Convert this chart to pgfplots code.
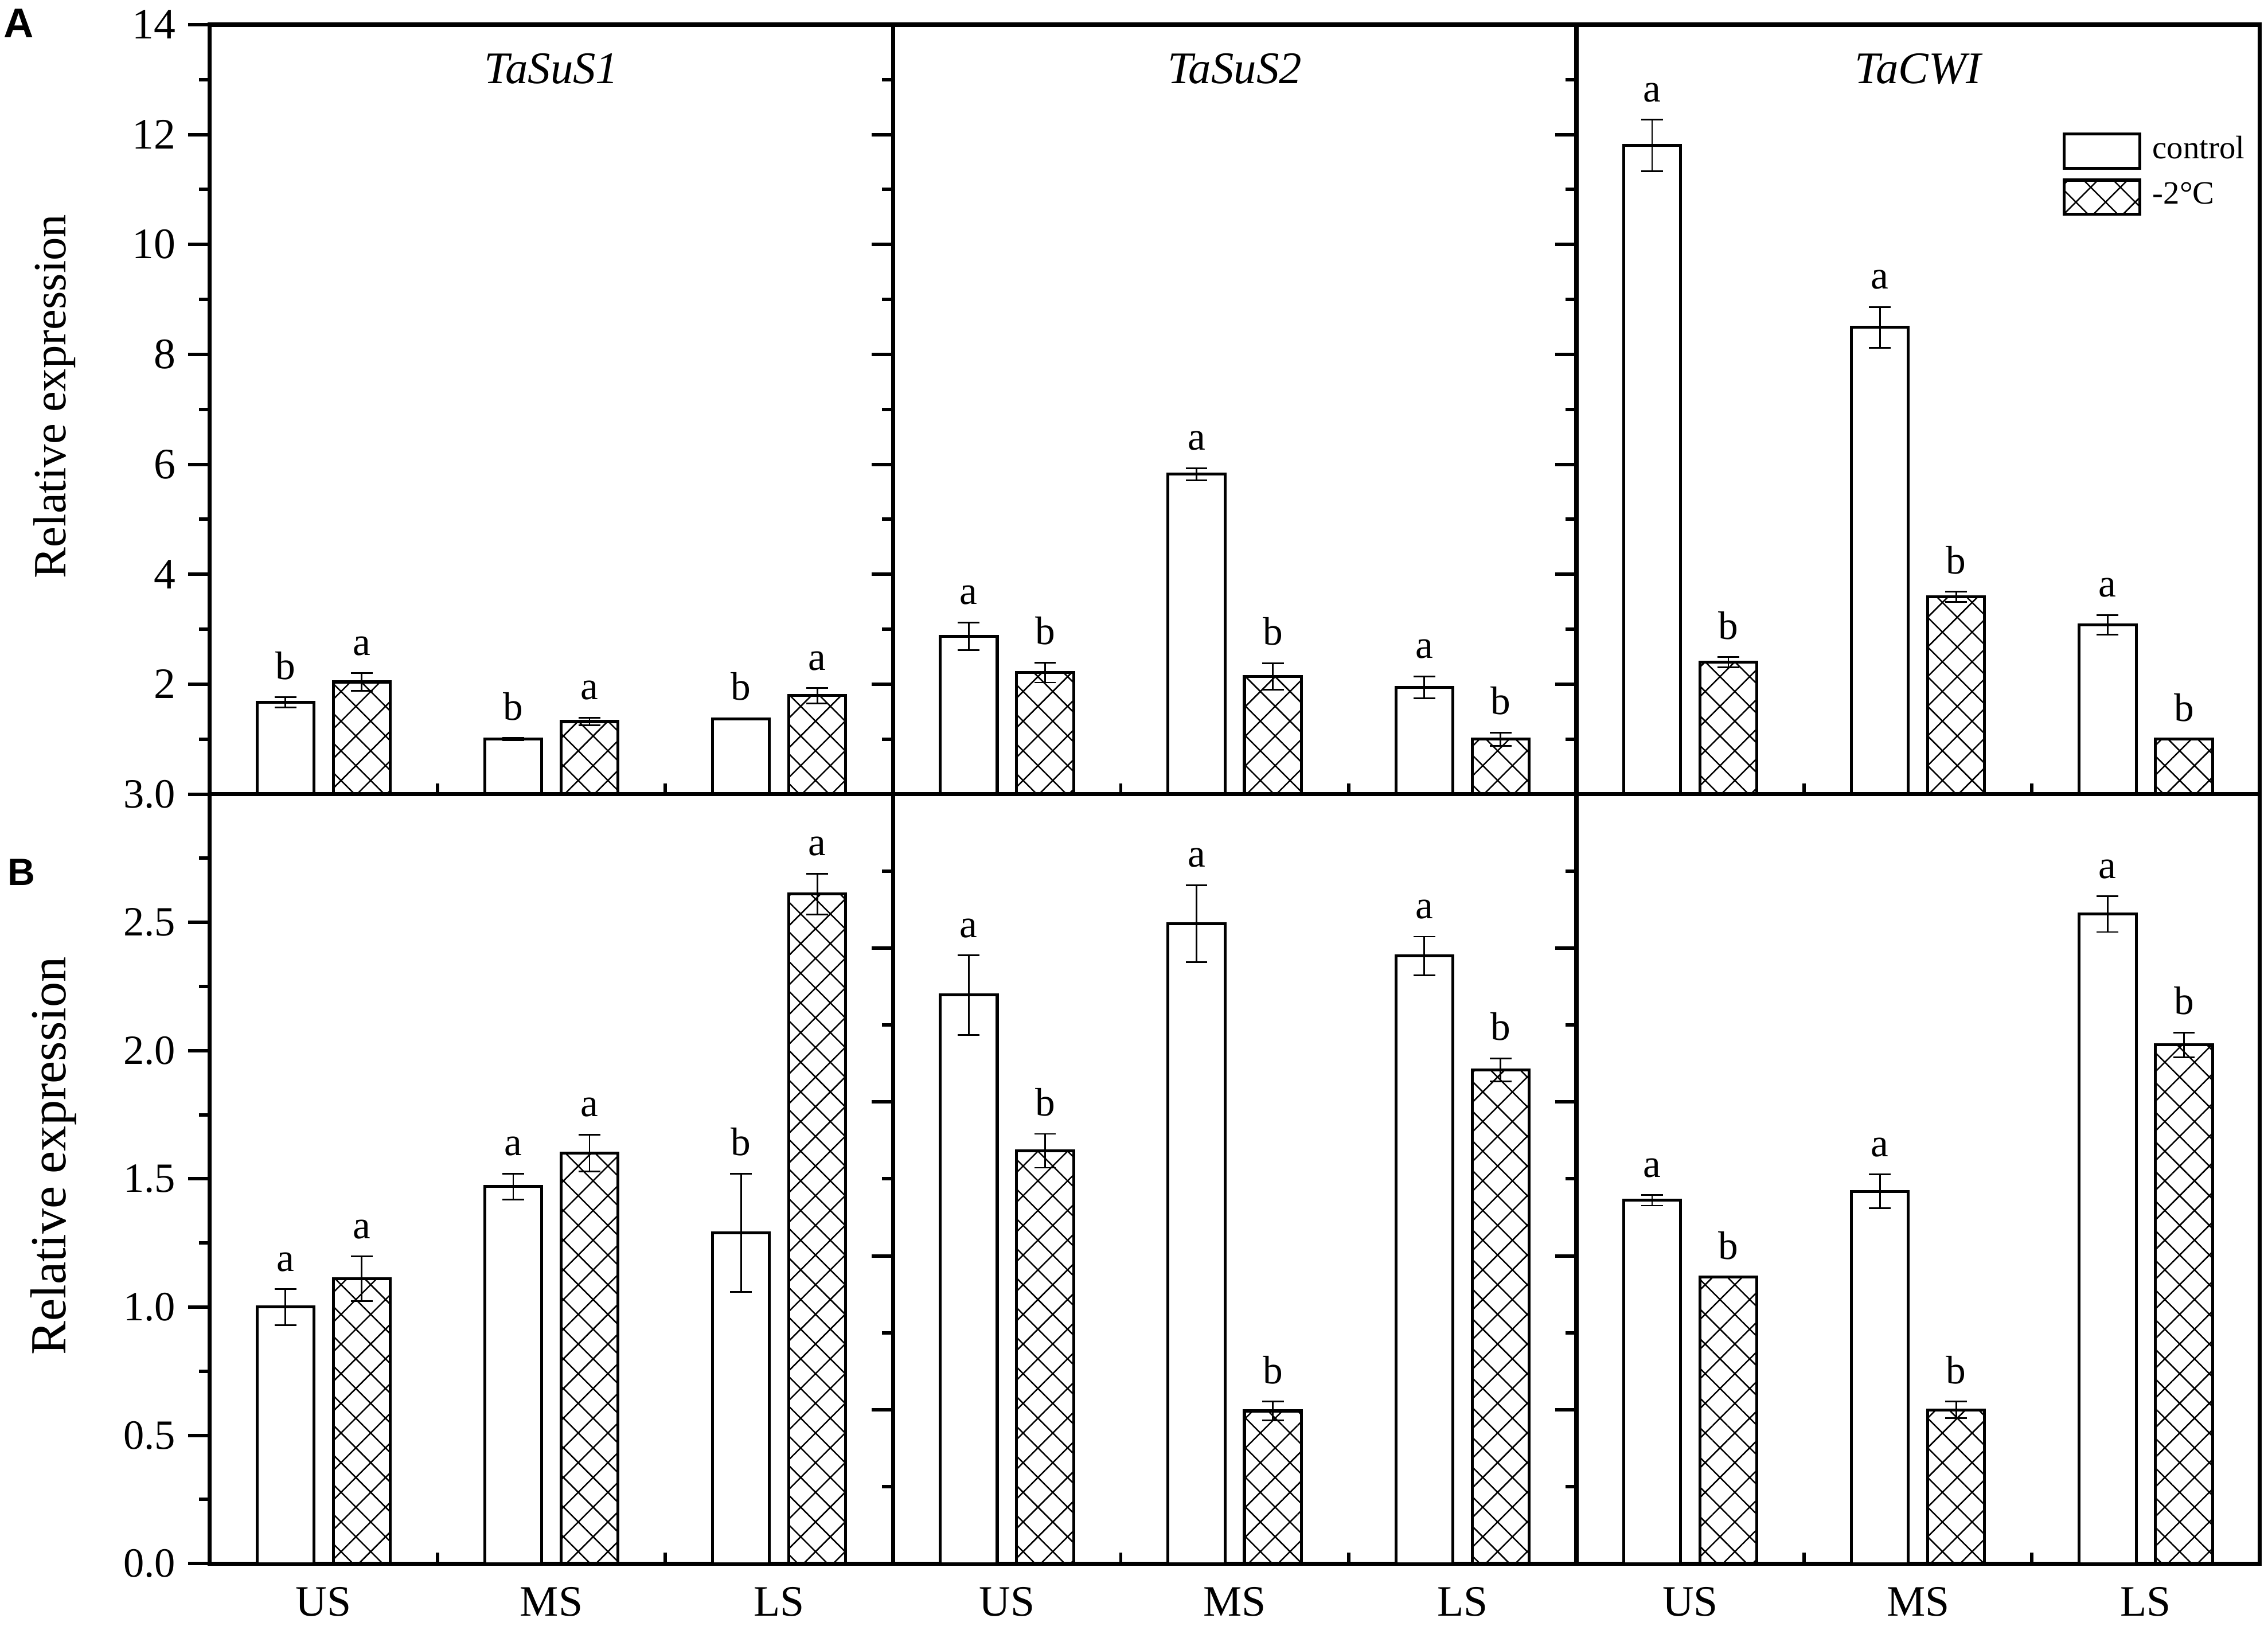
\documentclass[border=0pt]{standalone}
\usepackage{fontspec}
\setmainfont{Liberation Serif}
\newfontfamily\panelfont{Liberation Sans}
\usepackage{pgfplots}
\pgfplotsset{compat=1.18}
\usetikzlibrary{patterns.meta}

\pgfplotsset{
  panel/.style={
    scale only axis, width=189pt, height=212.8pt, anchor=south west,
    xmin=0.5, xmax=3.5, ymin=0,
    ybar, bar width=0.25, clip=false,
    axis line style={line width=1.16pt},
    xtick={1,2,3}, minor xtick={1.5,2.5},
    xtick pos=bottom, ytick pos=left,
    xtick align=inside, ytick align=outside,
    major tick length=5.9pt, minor tick length=3pt,
    tick style={line width=0.95pt, black},
    major x tick style={draw=none},
    /pgf/number format/assume math mode=true,
    tick label style={font=\fontsize{12}{14}\selectfont},
    xticklabels={},
    error bars/error bar style={line width=0.45pt, black},
    error bars/error mark options={rotate=90, line width=0.45pt, mark size=3pt, black},
  },
  toprow/.style={ymax=14, ytick={0,2,...,14}, minor ytick={1,3,...,13}, yticklabels={}},
  botrow/.style={xticklabels={US,MS,LS}, xticklabel style={yshift=-3pt}},
  botinner/.style={ymax=2.5, ytick={0,0.5,...,2.5}, minor ytick={0.25,0.75,...,2.25}, yticklabels={}},
  ctrl/.style={draw=black, line width=0.8pt, fill=white, bar shift=-0.1675,
     legend image code/.code={\draw[##1, line width=0.8pt] (0pt,-5.1pt) rectangle (20.8pt,4.4pt); \path (24.0pt,0pt);}},
  cold/.style={draw=black, line width=0.8pt, pattern={Hatch[angle=45,distance=5.8pt,line width=0.4pt]}, bar shift=0.1675,
     legend image code/.code={\draw[##1, line width=0.8pt] (0pt,-5.1pt) rectangle (20.8pt,4.4pt); \path (24.0pt,0pt);}},
}
\newcommand\lab[3]{\node[anchor=base, yshift=5pt, inner sep=0pt, font=\fontsize{11}{12}\selectfont] at (axis cs:#1,#2) {#3};}
\newcommand\ttl[1]{\node[anchor=base, yshift=-16.3pt, inner sep=0pt, font=\itshape\fontsize{12.5}{14}\selectfont] at (rel axis cs:0.5,1) {#1};}

\begin{document}
\begin{tikzpicture}
\useasboundingbox (0,0) rectangle (627.3pt,449.6pt);

% ---------------- top row ----------------
\begin{axis}[panel, toprow, at={(58pt,230pt)}, yticklabels={{},2,4,6,8,10,12,14}]
\addplot[ctrl, error bars/.cd, y dir=both, y explicit] coordinates {(1,1.67) +- (0,0.09) (2,1.00) +- (0,0.02) (3,1.37) +- (0,0.01)};
\addplot[cold, error bars/.cd, y dir=both, y explicit] coordinates {(1,2.04) +- (0,0.16) (2,1.32) +- (0,0.07) (3,1.79) +- (0,0.14)};
\ttl{TaSuS1}
\lab{0.8325}{1.76}{b}\lab{1.1675}{2.20}{a}
\lab{1.8325}{1.02}{b}\lab{2.1675}{1.39}{a}
\lab{2.8325}{1.38}{b}\lab{3.1675}{1.93}{a}
\end{axis}

\begin{axis}[panel, toprow, at={(247pt,230pt)}]
\addplot[ctrl, error bars/.cd, y dir=both, y explicit] coordinates {(1,2.87) +- (0,0.25) (2,5.82) +- (0,0.11) (3,1.94) +- (0,0.20)};
\addplot[cold, error bars/.cd, y dir=both, y explicit] coordinates {(1,2.21) +- (0,0.18) (2,2.14) +- (0,0.24) (3,1.00) +- (0,0.12)};
\ttl{TaSuS2}
\lab{0.8325}{3.12}{a}\lab{1.1675}{2.39}{b}
\lab{1.8325}{5.93}{a}\lab{2.1675}{2.38}{b}
\lab{2.8325}{2.14}{a}\lab{3.1675}{1.12}{b}
\end{axis}

\begin{axis}[panel, toprow, at={(436pt,230pt)},
  legend style={draw=none, fill=none, inner sep=0pt, at={(0.711,0.8604)}, anchor=north west,
    row sep=2.4pt, font=\fontsize{9}{11}\selectfont, nodes={inner sep=0pt}},
  legend cell align=left]
\addplot[ctrl, error bars/.cd, y dir=both, y explicit] coordinates {(1,11.80) +- (0,0.47) (2,8.49) +- (0,0.37) (3,3.08) +- (0,0.18)};
\addlegendentry{control}
\addplot[cold, error bars/.cd, y dir=both, y explicit] coordinates {(1,2.40) +- (0,0.09) (2,3.59) +- (0,0.09) (3,1.00) +- (0,0.0)};
\addlegendentry{-2°C}
\ttl{TaCWI}
\lab{0.8325}{12.27}{a}\lab{1.1675}{2.49}{b}
\lab{1.8325}{8.86}{a}\lab{2.1675}{3.68}{b}
\lab{2.8325}{3.26}{a}\lab{3.1675}{1.00}{b}
\end{axis}

% ---------------- bottom row ----------------
\begin{axis}[panel, botrow, at={(58pt,17.2pt)}, ymax=3, ytick={0,0.5,...,3}, minor ytick={0.25,0.75,...,2.75},
  yticklabel style={font=\fontsize{11.5}{13}\selectfont, /pgf/number format/.cd, fixed, fixed zerofill, precision=1}]
\addplot[ctrl, error bars/.cd, y dir=both, y explicit] coordinates {(1,1.00) +- (0,0.07) (2,1.47) +- (0,0.05) (3,1.29) +- (0,0.23)};
\addplot[cold, error bars/.cd, y dir=both, y explicit] coordinates {(1,1.11) +- (0,0.087) (2,1.60) +- (0,0.072) (3,2.61) +- (0,0.08)};
\lab{0.8325}{1.07}{a}\lab{1.1675}{1.197}{a}
\lab{1.8325}{1.52}{a}\lab{2.1675}{1.672}{a}
\lab{2.8325}{1.52}{b}\lab{3.1675}{2.69}{a}
\end{axis}

\begin{axis}[panel, botrow, botinner, at={(247pt,17.2pt)}]
\addplot[ctrl, error bars/.cd, y dir=both, y explicit] coordinates {(1,1.847) +- (0,0.129) (2,2.079) +- (0,0.125) (3,1.974) +- (0,0.063)};
\addplot[cold, error bars/.cd, y dir=both, y explicit] coordinates {(1,1.341) +- (0,0.055) (2,0.496) +- (0,0.030) (3,1.604) +- (0,0.037)};
\lab{0.8325}{1.976}{a}\lab{1.1675}{1.396}{b}
\lab{1.8325}{2.204}{a}\lab{2.1675}{0.526}{b}
\lab{2.8325}{2.037}{a}\lab{3.1675}{1.641}{b}
\end{axis}

\begin{axis}[panel, botrow, botinner, at={(436pt,17.2pt)}]
\addplot[ctrl, error bars/.cd, y dir=both, y explicit] coordinates {(1,1.180) +- (0,0.017) (2,1.209) +- (0,0.055) (3,2.110) +- (0,0.058)};
\addplot[cold, error bars/.cd, y dir=both, y explicit] coordinates {(1,0.931) +- (0,0.0) (2,0.499) +- (0,0.027) (3,1.685) +- (0,0.040)};
\lab{0.8325}{1.197}{a}\lab{1.1675}{0.931}{b}
\lab{1.8325}{1.264}{a}\lab{2.1675}{0.526}{b}
\lab{2.8325}{2.168}{a}\lab{3.1675}{1.725}{b}
\end{axis}

% ---------------- labels ----------------
\node[rotate=90, anchor=base, font=\fontsize{12.8}{16}\selectfont] at (18.1pt,340pt) {Relative expression};
\node[rotate=90, anchor=base, font=\fontsize{14}{16}\selectfont] at (18.1pt,129.9pt) {Relative expression};
\node[anchor=north west, inner sep=0pt, font=\panelfont\bfseries\fontsize{11.5}{12}\selectfont] at (0.8pt,447.3pt) {A};
\node[anchor=north west, inner sep=0pt, font=\panelfont\bfseries\fontsize{10.5}{12}\selectfont] at (1.9pt,212.2pt) {B};
\end{tikzpicture}
\end{document}
